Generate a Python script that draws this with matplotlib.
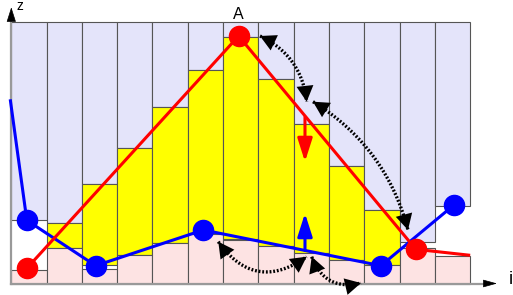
import numpy as np
import matplotlib
matplotlib.use("Agg")
import matplotlib.pyplot as plt
from matplotlib.patches import Rectangle, FancyArrowPatch

plt.rcParams['font.family'] = ['Liberation Sans', 'DejaVu Sans']

# column data (column i spans [i, i+1]); heights in px-like units
bed = [13.2, 35.2, 14.2, 28.5, 40.2, 50.0, 44.0, 37.5, 30.2, 23.5, 18.5, 35.2, 27.5]
water_lo = [np.nan, 35.2, 18.5, 29.0, 40.8, 50.2, 44.2, 37.5, 30.2, 23.5, 18.5, np.nan, np.nan]
surface = [63.2, 60.2, 99.8, 135.2, 176.2, 213.2, 246.2, 204.2, 159.8, 117.8, 73.2, 41.8, 77.8]
top = 261.8

# red (upper) polyline
red_x = [0.44, 6.44, 11.46, 13.0]
red_z = [15.2, 247.5, 34.2, 28.2]

# blue (lower) polyline
blue_x = [-0.03, 0.44, 2.39, 5.44, 10.47, 12.54]
blue_z = [184.2, 63.2, 17.8, 53.5, 17.8, 78.5]

fig = plt.figure(figsize=(5.13, 2.95), dpi=100)
ax = fig.add_axes([0, 0, 1, 1])
ax.set_xlim(-0.32, 14.213)
ax.set_ylim(-11.5, 283.5)
ax.axis("off")

edge = "#555555"
for i in range(len(bed)):
    ax.add_patch(Rectangle((i, surface[i]), 1, top - surface[i], facecolor="#e4e4fa",
                           edgecolor=edge, lw=0.8, zorder=1))
    if not np.isnan(water_lo[i]):
        ax.add_patch(Rectangle((i, water_lo[i]), 1, surface[i] - water_lo[i], facecolor="#ffff00",
                               edgecolor=edge, lw=0.8, zorder=1))
    ax.add_patch(Rectangle((i, 0), 1, bed[i], facecolor="#fde3e3",
                           edgecolor=edge, lw=0.8, zorder=1))

# axes arrows
ax.plot([0, 13.42], [0, 0], color="#999999", lw=1.6, zorder=2, clip_on=False)
ax.plot([0, 0], [0, 263.5], color="#999999", lw=1.6, zorder=2, clip_on=False)
ax.add_patch(FancyArrowPatch((13.40, 0), (13.76, 0), arrowstyle="-|>,head_length=0.8,head_width=0.22",
                             mutation_scale=11, color="black", lw=0.5, shrinkA=0, shrinkB=0, zorder=3))
ax.add_patch(FancyArrowPatch((0, 263.0), (0, 276.2), arrowstyle="-|>,head_length=0.85,head_width=0.27",
                             mutation_scale=11, color="black", lw=0.5, shrinkA=0, shrinkB=0, zorder=3))
ax.text(0.25, 274.0, "z", fontsize=10, ha="center", va="baseline")
ax.text(14.15, -0.5, "i", fontsize=13, ha="center", va="baseline")
ax.text(6.42, 264.5, "A", fontsize=11.5, ha="center", va="baseline")

# lines
ax.plot(blue_x, blue_z, color="#0000ff", lw=2.2, zorder=4, solid_capstyle="butt")
ax.plot(blue_x[1:], blue_z[1:], ls="None", marker="o", ms=14.5, color="#0000ff", zorder=5)
ax.plot(red_x, red_z, color="#ff0000", lw=2.2, zorder=4, solid_capstyle="butt")
ax.plot(red_x[:3], red_z[:3], ls="None", marker="o", ms=14.5, color="#ff0000", zorder=5)

# vertical arrows
ax.add_patch(FancyArrowPatch((8.32, 166.5), (8.32, 121.8), arrowstyle="-|>,head_length=1.0,head_width=0.32",
                             mutation_scale=14, color="#ff0000", lw=2.2, shrinkA=0, shrinkB=0, zorder=6))
ax.add_patch(FancyArrowPatch((8.32, 33.0), (8.32, 70.2), arrowstyle="-|>,head_length=1.0,head_width=0.32",
                             mutation_scale=14, color="#0000ff", lw=2.2, shrinkA=0, shrinkB=0, zorder=6))

# dotted curved arrows (quadratic curve like arc3, built in display space)
curves = [((7.045, 247.5), (8.368, 181.8), -0.28),
          ((8.547, 181.8), (11.238, 53.5), -0.2),
          ((5.864, 41.8), (8.368, 26.8), 0.5),
          ((8.51, 26.8), (9.907, 0.5), 0.44)]
t = np.linspace(0, 1, 80)[:, None]
for a, b, r in curves:
    p0 = ax.transData.transform(a)
    p1 = ax.transData.transform(b)
    dx, dy = p1 - p0
    c = (p0 + p1) / 2 + r * np.array([dy, -dx])
    pts = (1 - t) ** 2 * p0 + 2 * t * (1 - t) * c + t ** 2 * p1
    pts = ax.transData.inverted().transform(pts)
    ax.plot(pts[:, 0], pts[:, 1], color="black", lw=2.4, ls=(0, (0.55, 0.55)),
            zorder=7, clip_on=False)
    ax.add_patch(FancyArrowPatch(a, b, connectionstyle=f"arc3,rad={r}",
                                 arrowstyle="<|-|>,head_length=0.6,head_width=0.32",
                                 mutation_scale=19, facecolor="black", edgecolor="none", lw=0,
                                 shrinkA=0, shrinkB=0, zorder=7, clip_on=False))

plt.savefig("out.png", dpi=100)
